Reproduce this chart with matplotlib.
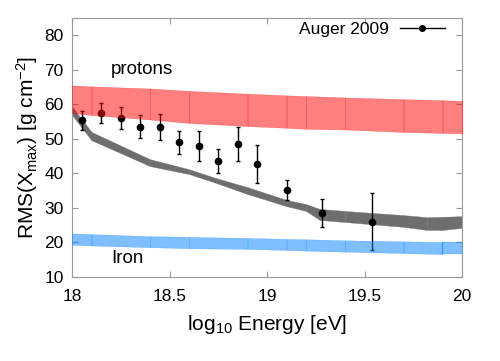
import matplotlib
matplotlib.use('Agg')
import matplotlib.pyplot as plt
from matplotlib.lines import Line2D
import numpy as np

# Auger 2009 RMS(Xmax) points
auger_e = [18.05, 18.15, 18.25, 18.35, 18.45, 18.55, 18.65, 18.75, 18.85, 18.95, 19.1, 19.28, 19.54]
auger_rms = [55.4, 57.5, 56.0, 53.5, 53.5, 49.0, 47.9, 43.6, 48.5, 42.6, 35.2, 28.6, 26.0]
auger_err = [2.7, 3.0, 3.2, 3.3, 3.7, 3.3, 4.4, 3.5, 5.0, 5.5, 3.0, 4.0, 8.3]

# model bands (segment nodes)
band_e = [18.0, 18.1, 18.4, 18.6, 18.9, 19.1, 19.2, 19.4, 19.7, 19.9, 20.0]
proton_hi = [65.5, 65.2, 64.6, 63.9, 63.1, 62.6, 62.4, 62.0, 61.5, 61.2, 61.0]
proton_lo = [57.5, 56.9, 55.6, 54.6, 53.7, 53.2, 52.9, 52.7, 52.0, 51.7, 51.6]
iron_hi = [22.6, 22.4, 21.8, 21.6, 21.3, 21.0, 20.9, 20.6, 20.3, 20.1, 20.1]
iron_lo = [19.3, 19.1, 18.6, 18.3, 18.1, 17.8, 17.6, 17.3, 16.9, 16.6, 16.6]

mix_e = [18.0, 18.1, 18.4, 18.6, 18.74, 18.9, 19.1, 19.2, 19.27, 19.4, 19.7, 19.82, 19.9, 20.0]
mix_hi = [59.4, 52.0, 44.1, 41.2, 38.6, 36.0, 32.3, 31.1, 29.7, 29.1, 27.9, 27.3, 27.4, 27.6]
mix_lo = [56.9, 49.6, 42.1, 39.8, 37.2, 34.0, 30.5, 29.1, 26.5, 25.9, 24.5, 23.6, 23.6, 24.2]

plt.rcParams['font.family'] = ['Liberation Sans', 'DejaVu Sans']
plt.rcParams['mathtext.fontset'] = 'custom'
plt.rcParams['mathtext.rm'] = 'Liberation Sans'
plt.rcParams['mathtext.it'] = 'Liberation Sans'

fig = plt.figure(figsize=(5.0, 3.61), dpi=100)
ax = fig.add_axes([0.144, 0.233, 0.78, 0.717])


def draw_band(x, lo, hi, color, alpha, z):
    # one polygon per segment, like the original patches
    for i in range(len(x) - 1):
        ax.fill_between(x[i:i + 2], lo[i:i + 2], hi[i:i + 2], facecolor=color,
                        edgecolor=color, alpha=alpha, linewidth=0.25, zorder=z)


draw_band(mix_e, mix_lo, mix_hi, '#6e6e6e', 1.0, 1)
ax.errorbar(auger_e, auger_rms, yerr=auger_err, fmt='o', color='black', ms=4.5,
            elinewidth=1.0, capsize=1.5, capthick=1.0, zorder=2)
draw_band(band_e, proton_lo, proton_hi, '#ff0000', 0.5, 3)
draw_band(band_e, iron_lo, iron_hi, '#0080ff', 0.5, 3)

ax.text(18.2, 70, 'protons', fontsize=13.5, va='center', ha='left')
ax.text(18.2, 15.3, 'Iron', fontsize=13.5, va='center', ha='left')

handle = Line2D([], [], color='black', marker='o', ms=4, lw=1.0)
ax.legend([handle], ['Auger 2009'], loc='upper right', bbox_to_anchor=(0.965, 1.0),
          frameon=False, markerfirst=False, fontsize=12.5, handlelength=2.6,
          handletextpad=0.6, borderaxespad=0, borderpad=0.2)

ax.set_xlim(18, 20)
ax.set_ylim(10, 85)
ax.set_xticks([18, 18.5, 19, 19.5, 20])
ax.set_xticklabels(['18', '18.5', '19', '19.5', '20'])
ax.set_yticks([10, 20, 30, 40, 50, 60, 70, 80])
ax.tick_params(direction='in', top=True, right=True, length=4, width=0.8,
               color='#999999', labelsize=12.5, pad=6)
ax.tick_params(axis='x', pad=9)
for s in ax.spines.values():
    s.set_color('#999999')
    s.set_linewidth(0.8)

ax.set_xlabel(r'log$_{10}$ Energy [eV]', fontsize=15, labelpad=6)
ax.set_ylabel(r'RMS(X$_{\mathrm{max}}$) [g cm$^{\mathrm{-2}}$]', fontsize=15, labelpad=3)

fig.savefig('out.png', dpi=100)
